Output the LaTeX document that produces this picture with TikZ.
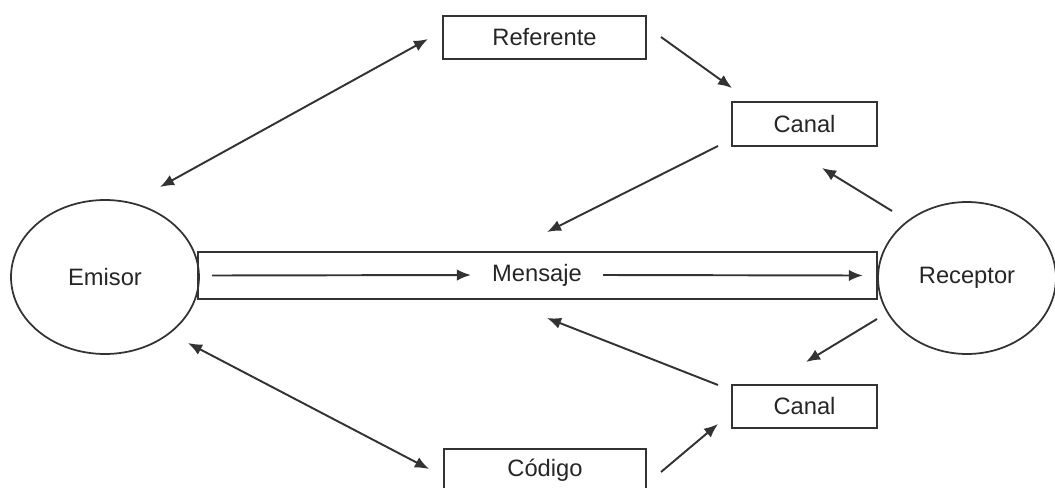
\documentclass[tikz,border=0pt]{standalone}
\usepackage{fontspec}
\setmainfont{Liberation Sans}
\usetikzlibrary{shapes.geometric,arrows.meta}

\begin{document}
\begin{tikzpicture}[x=0.02cm, y=-0.02cm,
    every node/.style={font=\fontsize{13.5}{16}\selectfont, text=black!85},
    caja/.style={rectangle, draw=black!80, line width=1pt, inner sep=0pt},
    polo/.style={ellipse, draw=black!80, line width=1pt, inner sep=0pt},
    flecha/.style={-{Latex[length=8pt,width=6.5pt]}, draw=black!80, line width=1.1pt},
    doble/.style={{Latex[length=8pt,width=6.5pt]}-{Latex[length=8pt,width=6.5pt]}, draw=black!80, line width=1.1pt}]

    \useasboundingbox (0,0) rectangle (1055,487);
    \clip (0,0) rectangle (1055,487);

    \node[polo, minimum width=3.76cm, minimum height=3.08cm] (emi) at (105,277) {Emisor};
    \node[polo, minimum width=3.56cm, minimum height=3.04cm] (rec) at (967,278) {Receptor};
    \node[caja, minimum width=13.58cm, minimum height=0.94cm] (msgbox) at (537.5,275.5) {};
    \node (msg) at (537,275) {Mensaje};

    \node[caja, minimum width=4.06cm, minimum height=0.86cm] (ref) at (544.5,37.5) {Referente};
    \node[caja, minimum width=2.9cm, minimum height=0.88cm] (can1) at (804.5,124) {Canal};
    \node[caja, minimum width=2.9cm, minimum height=0.86cm] (can2) at (804.5,406.5) {Canal};
    \node[caja, minimum width=4.04cm, minimum height=0.86cm] (cod) at (545,470.5) {Código};

    % extremos de las flechas
    \coordinate (emi-a) at (160,187);
    \coordinate (ref-a) at (428,39);
    \coordinate (ref-b) at (661,37);
    \coordinate (can1-a) at (732,88);
    \coordinate (can1-b) at (718,146);
    \coordinate (msg-a) at (547,232);
    \coordinate (rec-a) at (892,211);
    \coordinate (can1-c) at (822,168);
    \coordinate (rec-b) at (877,319);
    \coordinate (can2-a) at (806,362);
    \coordinate (can2-b) at (718,385);
    \coordinate (msg-b) at (547,318);
    \coordinate (emi-b) at (188,343);
    \coordinate (cod-a) at (429,469);
    \coordinate (cod-b) at (661,472);
    \coordinate (can2-c) at (718,424);

    \draw[flecha] ([xshift=0.3cm]msgbox.west) -- ([xshift=-0.3cm]msg.west);
    \draw[flecha] ([xshift=0.3cm]msg.east) -- ([xshift=-0.3cm]msgbox.east);

    \draw[doble] (emi-a) -- (ref-a);
    \draw[flecha] (ref-b) -- (can1-a);
    \draw[flecha] (can1-b) -- (msg-a);
    \draw[flecha] (rec-a) -- (can1-c);
    \draw[flecha] (rec-b) -- (can2-a);
    \draw[flecha] (can2-b) -- (msg-b);
    \draw[doble] (emi-b) -- (cod-a);
    \draw[flecha] (cod-b) -- (can2-c);

\end{tikzpicture}
\end{document}
